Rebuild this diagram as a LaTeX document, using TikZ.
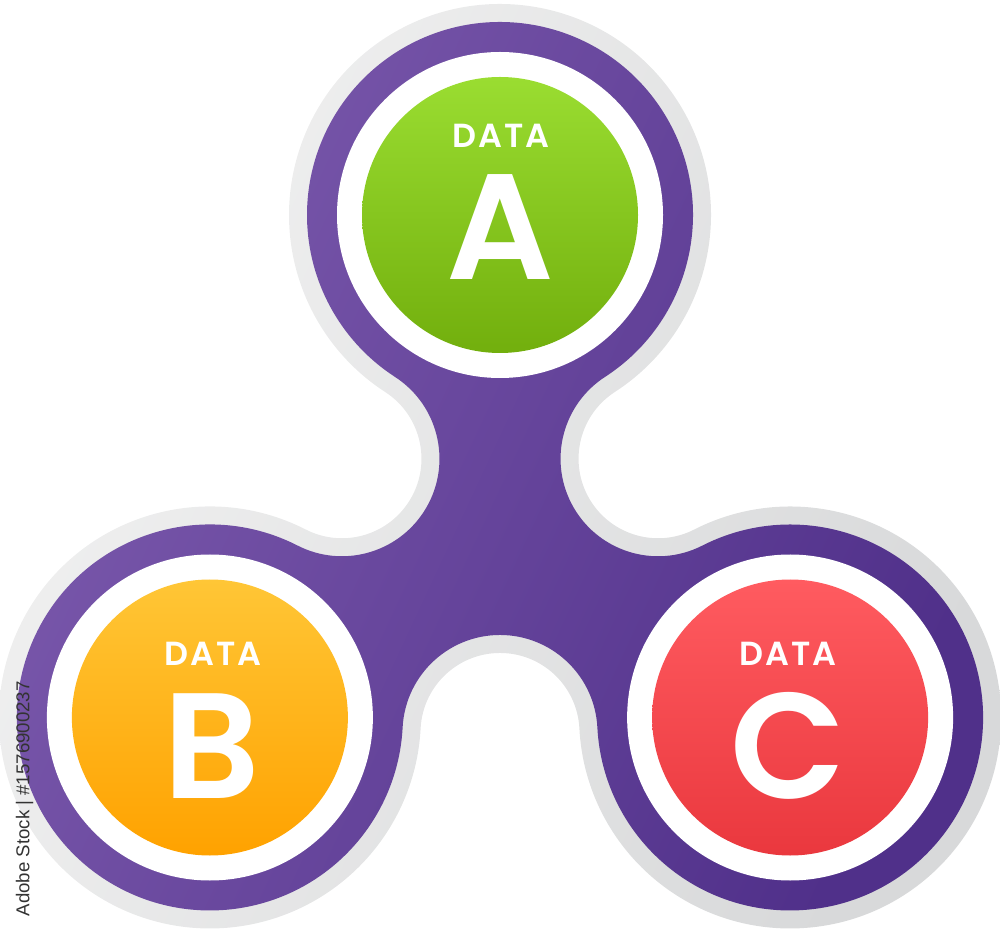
\documentclass[tikz,border=0pt]{standalone}
\usepackage{fontspec}
\newfontfamily\popfont{Poppins}[BoldFont={Poppins SemiBold}]
\newfontfamily\popdata{Poppins}[BoldFont={Poppins SemiBold}, LetterSpace=5]
\newfontfamily\wmfont{Liberation Sans}
\definecolor{purpA}{HTML}{7D5BAE}
\definecolor{purpB}{HTML}{50308A}
\definecolor{greyA}{HTML}{F2F2F2}
\definecolor{greyB}{HTML}{D8D9DA}
\definecolor{grnA}{HTML}{9ADD31}
\definecolor{grnB}{HTML}{72AF0D}
\definecolor{orgA}{HTML}{FFC636}
\definecolor{orgB}{HTML}{FFA200}
\definecolor{redA}{HTML}{FF5B60}
\definecolor{redB}{HTML}{EA383E}
\definecolor{wmgrey}{HTML}{333333}
% outline of the spinner: #1 = lobe radius, #2 = notch radius
\newcommand\spinnerpath[2]{%
 (A) ++(-57.04:#1) arc[start angle=-57.04,end angle=237.04,radius=#1]
 arc[start angle=57.04,end angle=-117.04,radius=#2]
 arc[start angle=62.96,end angle=357.04,radius=#1]
 arc[start angle=177.04,end angle=2.96,radius=#2]
 arc[start angle=182.96,end angle=477.04,radius=#1]
 arc[start angle=297.04,end angle=122.96,radius=#2] -- cycle}
\tikzset{
 dtext/.style={font=\popdata\bfseries\fontsize{9.5}{11}\selectfont, text=white, anchor=base, inner sep=0pt},
 ltext/.style={font=\popfont\bfseries\fontsize{42.7}{50}\selectfont, text=white, anchor=base, inner sep=0pt},
 wmtext/.style={font=\wmfont\fontsize{5.3}{6}\selectfont, text=wmgrey, rotate=90, anchor=base west, inner sep=0pt},
 ringfill/.style={fill=white},
}
\begin{document}
\begin{tikzpicture}[x=0.01cm,y=0.01cm]
\useasboundingbox (0,0) rectangle (1000,933);
\coordinate (A) at (500,718);
\coordinate (B) at (209.88,215.5);
\coordinate (C) at (790.12,215.5);
% grey outline
\shade[top color=greyA, bottom color=greyB, shading angle=65] \spinnerpath{211}{79.5};
% purple body
\shade[top color=purpA, bottom color=purpB, shading angle=65] \spinnerpath{193}{97.5};
% white rings
\fill[ringfill] (A) circle[radius=163];
\fill[ringfill] (B) circle[radius=163];
\fill[ringfill] (C) circle[radius=163];
% coloured discs
\shade[top color=grnA, bottom color=grnB] (A) circle[radius=138];
\shade[top color=orgA, bottom color=orgB] (B) circle[radius=138];
\shade[top color=redA, bottom color=redB] (C) circle[radius=138];
% texts
\node[dtext] (dA) at (501,785) {DATA};
\node[ltext] (lA) at (500,653) {A};
\node[dtext] (dB) at (213,268) {DATA};
\node[ltext] (lB) at (212,135) {B};
\node[dtext] (dC) at (788,268) {DATA};
\node[ltext] (lC) at (788,135) {C};
\node[wmtext] (wm) at (29.5,16) {Adobe Stock | \#1576900237};
\end{tikzpicture}
\end{document}
